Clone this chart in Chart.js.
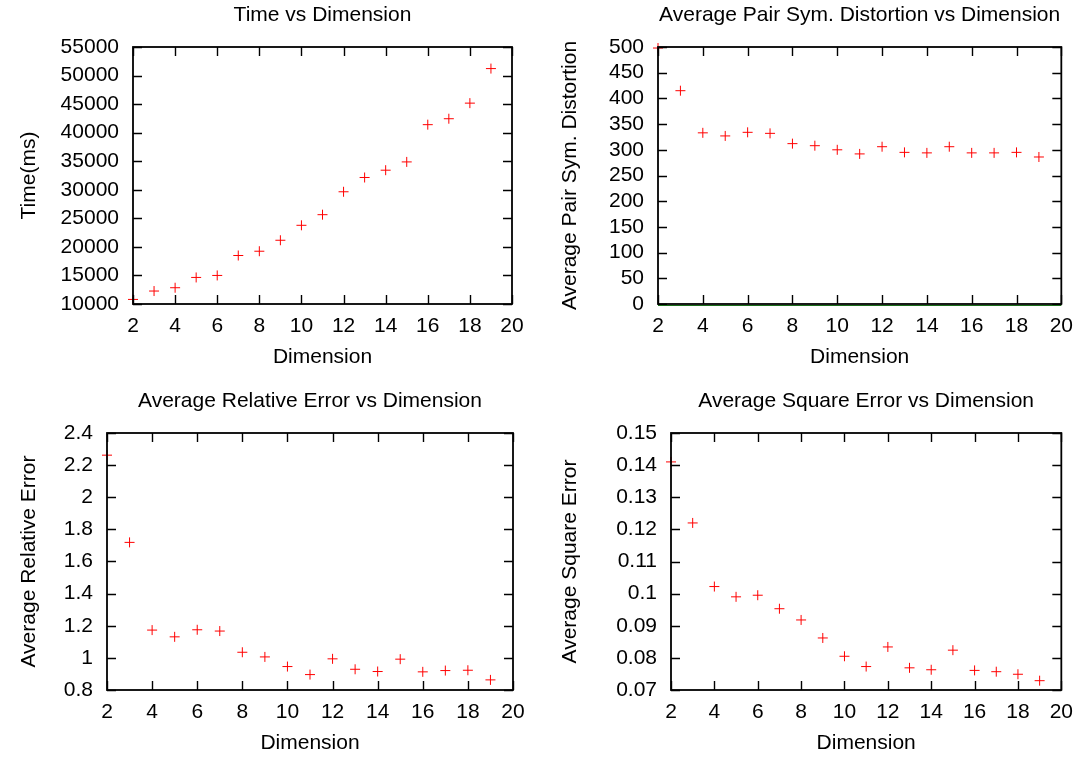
<!DOCTYPE html>
<html>
<head>
<meta charset="utf-8">
<title>Dimension plots</title>
<script src="https://cdn.jsdelivr.net/npm/chart.js@4.4.1/dist/chart.umd.min.js"></script>
<style>
  html, body { margin: 0; padding: 0; background: #fff; }
  #page { position: relative; width: 1083px; height: 757px; overflow: hidden; }
  .plot { position: absolute; height: 372px; }
  #p1 { left: 0; top: 0; width: 541px; }
  #p2 { left: 541px; top: 0; width: 542px; }
  #p3 { left: 0; top: 386px; width: 541px; }
  #p4 { left: 541px; top: 386px; width: 542px; }
</style>
</head>
<body>
<div id="page">
  <div class="plot" id="p1"><canvas id="chart-time"></canvas></div>
  <div class="plot" id="p2"><canvas id="chart-distortion"></canvas></div>
  <div class="plot" id="p3"><canvas id="chart-relerr"></canvas></div>
  <div class="plot" id="p4"><canvas id="chart-sqerr"></canvas></div>
</div>
<script>
// datos
const dimensions = [2, 3, 4, 5, 6, 7, 8, 9, 10, 11, 12, 13, 14, 15, 16, 17, 18, 19];
const timeMs = [10800, 12270, 12850, 14650, 15000, 18490, 19240, 21160, 23780, 25640, 29650, 32150, 33430, 34880, 41400, 42440, 45170, 51220];
const pairDistortion = [498, 415, 333, 327, 334, 332, 312, 308, 300, 292, 306, 295, 294, 306, 294, 294, 295, 286];
const relError = [2.262, 1.719, 1.173, 1.131, 1.175, 1.167, 1.035, 1.006, 0.946, 0.896, 0.994, 0.929, 0.915, 0.992, 0.913, 0.921, 0.923, 0.863];
const squareError = [0.141, 0.122, 0.1022, 0.099, 0.0995, 0.0953, 0.0918, 0.0862, 0.0805, 0.0773, 0.0834, 0.0769, 0.0763, 0.0824, 0.0761, 0.0757, 0.0749, 0.0729];

// ticks
const xTicks = [2, 4, 6, 8, 10, 12, 14, 16, 18, 20];
const timeTicks = [10000, 15000, 20000, 25000, 30000, 35000, 40000, 45000, 50000, 55000];
const distortionTicks = [0, 50, 100, 150, 200, 250, 300, 350, 400, 450, 500];
const relErrTicks = [0.8, 1, 1.2, 1.4, 1.6, 1.8, 2, 2.2, 2.4];
const sqErrTicks = [0.07, 0.08, 0.09, 0.1, 0.11, 0.12, 0.13, 0.14, 0.15];

const FONT = { family: '"Liberation Sans", Arial, Helvetica, sans-serif', size: 21, weight: 'normal' };
const TICK_LEN = 9;

Chart.defaults.color = '#000';
Chart.defaults.font = FONT;

// marco estilo gnuplot con ticks hacia dentro en los 4 lados
const gnuFrame = {
  id: 'gnuFrame',
  afterDatasetsDraw(chart, args, opts) {
    const { ctx, chartArea: a, scales: { x, y } } = chart;
    ctx.save();
    ctx.strokeStyle = '#000';
    ctx.lineWidth = 1.4;
    ctx.beginPath();
    x.ticks.forEach(t => {
      const px = Math.round(x.getPixelForValue(t.value)) + 0.5;
      ctx.moveTo(px, a.bottom); ctx.lineTo(px, a.bottom - TICK_LEN);
      ctx.moveTo(px, a.top); ctx.lineTo(px, a.top + TICK_LEN);
    });
    y.ticks.forEach(t => {
      const py = Math.round(y.getPixelForValue(t.value)) + 0.5;
      ctx.moveTo(a.left, py); ctx.lineTo(a.left + TICK_LEN, py);
      ctx.moveTo(a.right, py); ctx.lineTo(a.right - TICK_LEN, py);
    });
    ctx.stroke();
    ctx.lineWidth = 1.8;
    ctx.strokeRect(a.left, a.top, a.width, a.height);
    if (opts.zeroLine) {
      const py = y.getPixelForValue(0);
      ctx.strokeStyle = '#1a6e1a';
      ctx.lineWidth = 1;
      ctx.beginPath();
      ctx.moveTo(a.left, py + 1.5); ctx.lineTo(a.right, py + 1.5);
      ctx.stroke();
    }
    ctx.restore();
  }
};

function fmt(v) {
  return String(+Number(v).toFixed(4));
}

function makePlot(id, cfg) {
  const ctx = document.getElementById(id);
  if (!ctx) return null;

  return new Chart(ctx, {
    type: 'scatter',
    data: {
      datasets: [{
        data: dimensions.map((d, i) => ({ x: d, y: cfg.values[i] })),
        pointStyle: 'cross',
        pointRadius: 5,
        pointHoverRadius: 5,
        borderColor: '#ff0000',
        backgroundColor: '#ff0000',
        borderWidth: 1,
        pointBorderWidth: 1,
        clip: false
      }]
    },
    plugins: [gnuFrame],
    options: {
      responsive: true,
      maintainAspectRatio: false,
      animation: false,
      events: [],
      layout: { padding: { left: 0, right: cfg.padRight, top: 0, bottom: 0 } },
      plugins: {
        legend: { display: false },
        tooltip: { enabled: false },
        title: {
          display: true,
          text: cfg.title,
          fullSize: false,
          font: FONT,
          color: '#000',
          padding: { top: 2.4, bottom: 19.4 }
        },
        gnuFrame: { zeroLine: !!cfg.zeroLine }
      },
      scales: {
        x: {
          type: 'linear',
          min: 2,
          max: 20,
          afterBuildTicks: s => { s.ticks = xTicks.map(v => ({ value: v })); },
          afterFit: s => { s.height = 68; },
          grid: { display: false, drawTicks: false },
          border: { display: false },
          ticks: { autoSkip: false, maxRotation: 0, padding: 10, font: FONT, color: '#000', callback: v => fmt(v) },
          title: { display: true, text: 'Dimension', font: FONT, color: '#000', padding: { top: 0, bottom: 2.4 } }
        },
        y: {
          type: 'linear',
          min: cfg.yTicks[0],
          max: cfg.yTicks[cfg.yTicks.length - 1],
          afterBuildTicks: s => { s.ticks = cfg.yTicks.map(v => ({ value: v })); },
          afterFit: s => { s.width = cfg.yWidth; },
          grid: { display: false, drawTicks: false },
          border: { display: false },
          ticks: { autoSkip: false, padding: 14, font: FONT, color: '#000', callback: v => fmt(v) },
          title: { display: true, text: cfg.yTitle, font: FONT, color: '#000', padding: { top: 17, bottom: 0 } }
        }
      }
    }
  });
}

makePlot('chart-time', {
  title: 'Time vs Dimension', yTitle: 'Time(ms)',
  values: timeMs, yTicks: timeTicks, yWidth: 133, padRight: 29
});
makePlot('chart-distortion', {
  title: 'Average Pair Sym. Distortion vs Dimension', yTitle: 'Average Pair Sym. Distortion',
  values: pairDistortion, yTicks: distortionTicks, yWidth: 117, padRight: 20, zeroLine: true
});
makePlot('chart-relerr', {
  title: 'Average Relative Error vs Dimension', yTitle: 'Average Relative Error',
  values: relError, yTicks: relErrTicks, yWidth: 107, padRight: 28
});
makePlot('chart-sqerr', {
  title: 'Average Square Error vs Dimension', yTitle: 'Average Square Error',
  values: squareError, yTicks: sqErrTicks, yWidth: 130, padRight: 20
});
</script>
</body>
</html>
